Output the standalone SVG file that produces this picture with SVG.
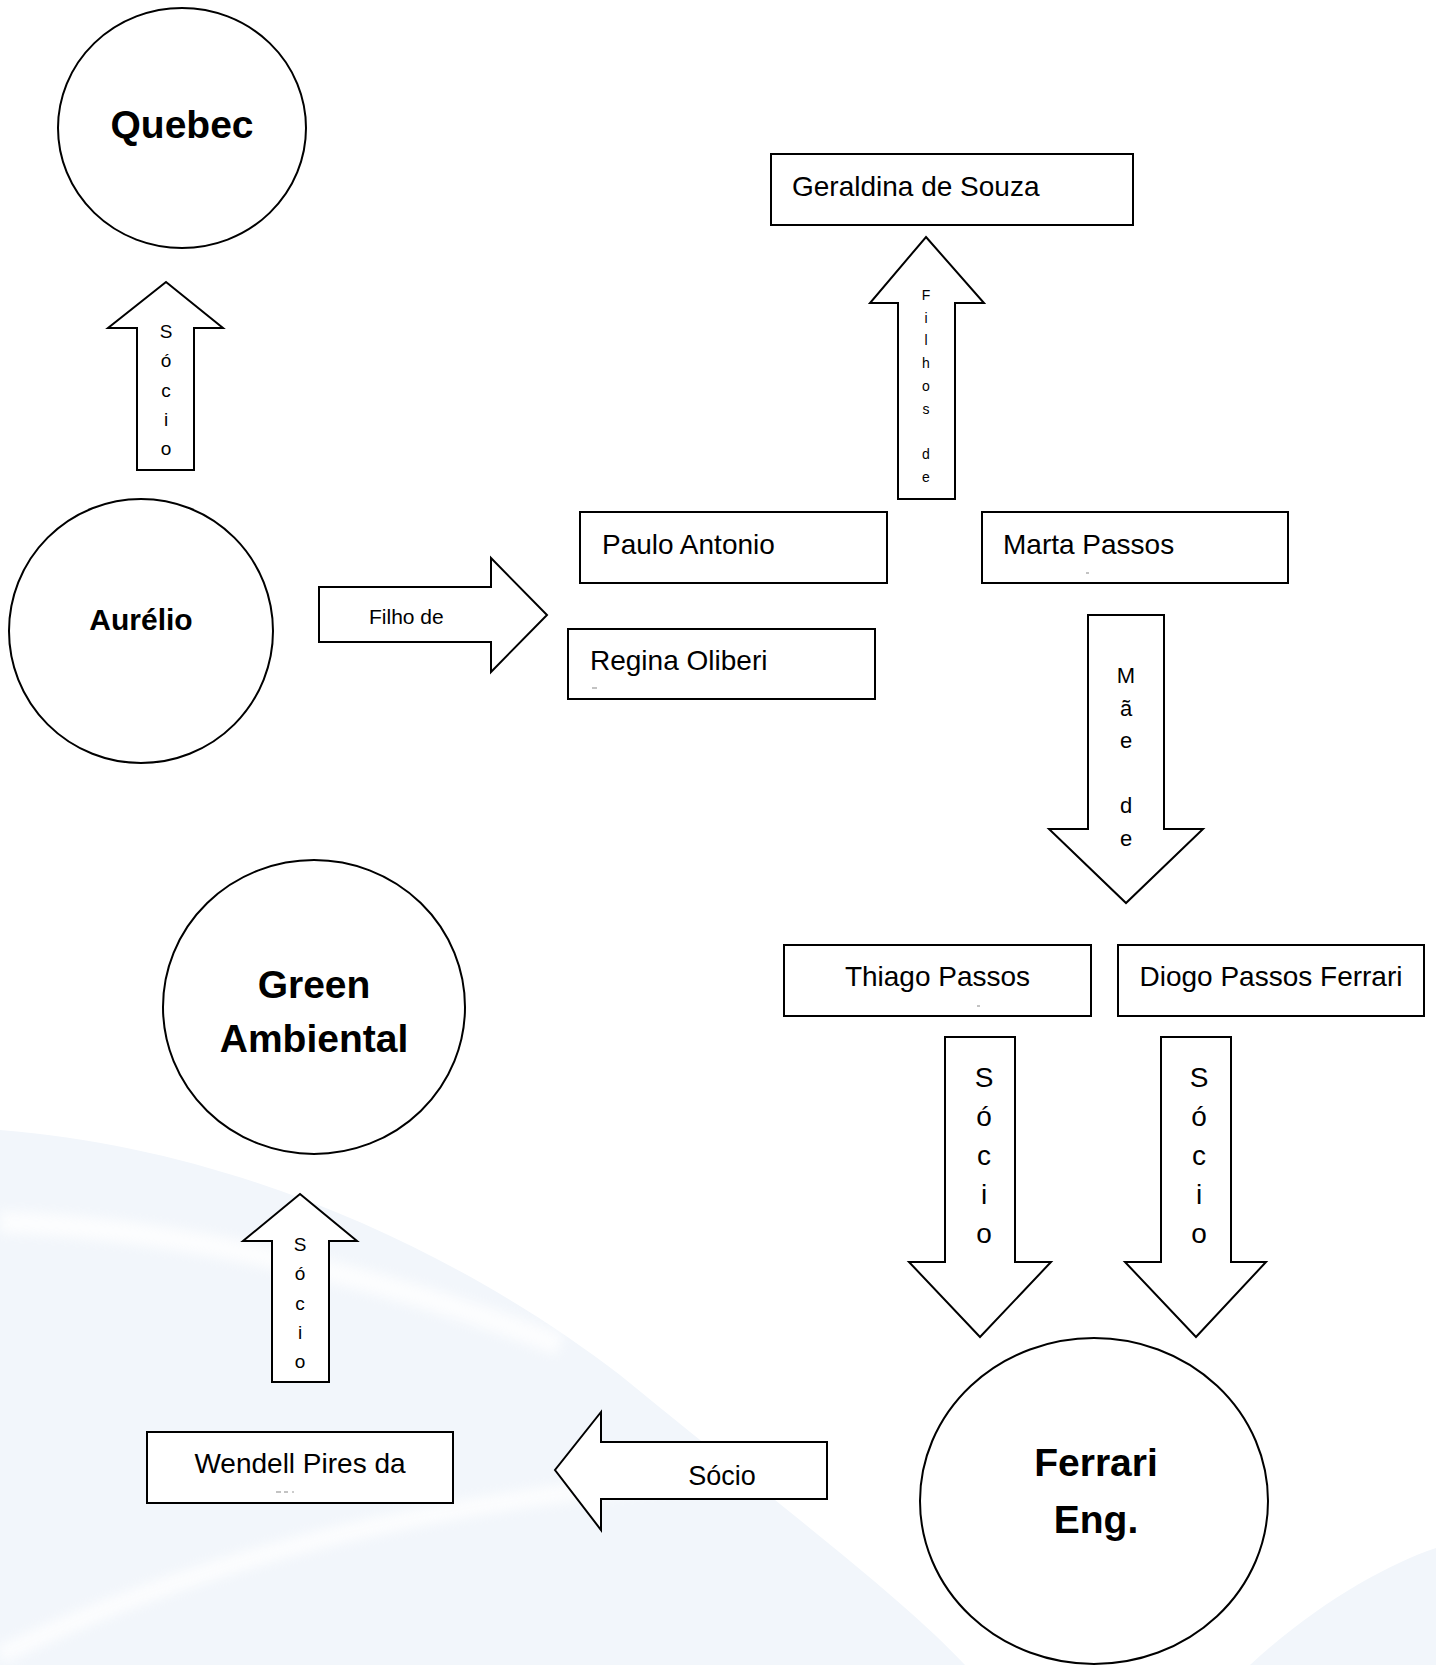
<svg xmlns="http://www.w3.org/2000/svg" width="1436" height="1665" viewBox="0 0 1436 1665">
<defs>
<style>
.shape{fill:#ffffff;stroke:#000000;stroke-width:2}
.arrow{fill:#ffffff;stroke:#000000;stroke-width:2;stroke-linejoin:miter}
.t{font-family:"Liberation Sans",Arial,sans-serif;fill:#000000}
.box{font-size:28px}
.big{font-size:39px;font-weight:bold;text-anchor:middle}
.stack{text-anchor:middle}
.mark{stroke:#9a9a9a;stroke-width:1.2}
</style>
<filter id="soft" x="-10%" y="-50%" width="120%" height="200%"><feGaussianBlur stdDeviation="6"/></filter>
</defs>
<rect width="1436" height="1665" fill="#ffffff"/>
<g id="background">
<path d="M0,1130 C250,1150 470,1260 620,1375 C760,1490 900,1595 965,1665 L0,1665 Z" fill="#f2f6fb"/>
<path d="M0,1222 C180,1228 380,1275 560,1345" fill="none" stroke="#ffffff" stroke-width="22" opacity="0.8" filter="url(#soft)"/>
<path d="M0,1655 C200,1560 420,1500 700,1480" fill="none" stroke="#ffffff" stroke-width="18" opacity="0.8" filter="url(#soft)"/>
<path d="M1250,1665 C1315,1605 1385,1565 1436,1548 L1436,1665 Z" fill="#f2f6fb"/>
</g>
<g id="nodes">
<g id="quebec">
<ellipse class="shape" cx="182" cy="128" rx="124" ry="120"/>
<text class="t big" x="182" y="138" font-size="38">Quebec</text>
</g>
<g id="aurelio">
<ellipse class="shape" cx="141" cy="631" rx="132" ry="132"/>
<text class="t" x="141" y="630" font-size="30" font-weight="bold" text-anchor="middle">Aurélio</text>
</g>
<g id="geraldina">
<rect class="shape" x="771" y="154" width="362" height="71"/>
<text class="t box" x="792" y="196">Geraldina de Souza</text>
</g>
<g id="paulo">
<rect class="shape" x="580" y="512" width="307" height="71"/>
<text class="t box" x="602" y="554">Paulo Antonio</text>
</g>
<g id="marta">
<rect class="shape" x="982" y="512" width="306" height="71"/>
<text class="t box" x="1003" y="554">Marta Passos</text>
<line class="mark" x1="1086" y1="573" x2="1089" y2="573"/>
</g>
<g id="regina">
<rect class="shape" x="568" y="629" width="307" height="70"/>
<text class="t box" x="590" y="670" font-size="28.5">Regina Oliberi</text>
<line class="mark" x1="592" y1="688" x2="597" y2="688"/>
</g>
<g id="thiago">
<rect class="shape" x="784" y="945" width="307" height="71"/>
<text class="t box" x="937.5" y="986" text-anchor="middle">Thiago Passos</text>
<line class="mark" x1="977" y1="1006" x2="980" y2="1006"/>
</g>
<g id="diogo">
<rect class="shape" x="1118" y="945" width="306" height="71"/>
<text class="t box" x="1271" y="986" text-anchor="middle" font-size="27">Diogo Passos Ferrari</text>
</g>
<g id="green-ambiental">
<ellipse class="shape" cx="314" cy="1007" rx="151" ry="147"/>
<text class="t big" x="314" y="998" font-size="40">Green</text>
<text class="t big" x="314" y="1052" font-size="40">Ambiental</text>
</g>
<g id="wendell">
<rect class="shape" x="147" y="1432" width="306" height="71"/>
<text class="t box" x="300" y="1473" text-anchor="middle" font-size="28.5">Wendell Pires da</text>
<line class="mark" x1="276" y1="1492" x2="281" y2="1492"/>
<line class="mark" x1="284" y1="1492" x2="288" y2="1492"/>
<line class="mark" x1="292" y1="1492" x2="294" y2="1492"/>
</g>
<g id="ferrari-eng">
<ellipse class="shape" cx="1094" cy="1501" rx="174" ry="163"/>
<text class="t big" x="1096" y="1476">Ferrari</text>
<text class="t big" x="1096" y="1533">Eng.</text>
</g>
</g>
<g id="connectors">
<g id="c-aurelio-quebec">
<polygon class="arrow" points="166,282 223,328 194,328 194,470 137,470 137,328 108,328"/>
<text class="t stack" font-size="19"><tspan x="166" y="338">S</tspan><tspan x="166" y="367">ó</tspan><tspan x="166" y="397">c</tspan><tspan x="166" y="426">i</tspan><tspan x="166" y="455">o</tspan></text>
</g>
<g id="c-filhos-geraldina">
<polygon class="arrow" points="926,237 984,303 955,303 955,499 898,499 898,303 870,303"/>
<text class="t stack" font-size="14"><tspan x="926" y="300">F</tspan><tspan x="926" y="322.7">i</tspan><tspan x="926" y="345.4">l</tspan><tspan x="926" y="368.1">h</tspan><tspan x="926" y="390.8">o</tspan><tspan x="926" y="413.5">s</tspan><tspan x="926" y="458.9">d</tspan><tspan x="926" y="481.6">e</tspan></text>
</g>
<g id="c-aurelio-pais">
<polygon class="arrow" points="319,587 491,587 491,558 547,615 491,672 491,642 319,642"/>
<text class="t" x="369" y="624" font-size="21">Filho de</text>
</g>
<g id="c-marta-filhos">
<polygon class="arrow" points="1088,615 1164,615 1164,829 1203,829 1126,903 1049,829 1088,829"/>
<text class="t stack" font-size="22"><tspan x="1126" y="683">M</tspan><tspan x="1126" y="715.5">ã</tspan><tspan x="1126" y="748">e</tspan><tspan x="1126" y="813">d</tspan><tspan x="1126" y="845.5">e</tspan></text>
</g>
<g id="c-thiago-ferrari">
<polygon class="arrow" points="945,1037 1015,1037 1015,1262 1051,1262 980,1337 909,1262 945,1262"/>
<text class="t stack" font-size="28"><tspan x="984" y="1087">S</tspan><tspan x="984" y="1126">ó</tspan><tspan x="984" y="1165">c</tspan><tspan x="984" y="1204">i</tspan><tspan x="984" y="1243">o</tspan></text>
</g>
<g id="c-diogo-ferrari">
<polygon class="arrow" points="1161,1037 1231,1037 1231,1262 1266,1262 1196,1337 1125,1262 1161,1262"/>
<text class="t stack" font-size="28"><tspan x="1199" y="1087">S</tspan><tspan x="1199" y="1126">ó</tspan><tspan x="1199" y="1165">c</tspan><tspan x="1199" y="1204">i</tspan><tspan x="1199" y="1243">o</tspan></text>
</g>
<g id="c-ferrari-wendell">
<polygon class="arrow" points="827,1442 601,1442 601,1412 555,1470 601,1530 601,1499 827,1499"/>
<text class="t" x="722" y="1485" font-size="27" text-anchor="middle">Sócio</text>
</g>
<g id="c-wendell-green">
<polygon class="arrow" points="300,1194 357,1241 329,1241 329,1382 272,1382 272,1241 243,1241"/>
<text class="t stack" font-size="19"><tspan x="300" y="1251">S</tspan><tspan x="300" y="1280">ó</tspan><tspan x="300" y="1310">c</tspan><tspan x="300" y="1339">i</tspan><tspan x="300" y="1368">o</tspan></text>
</g>
</g>
</svg>
